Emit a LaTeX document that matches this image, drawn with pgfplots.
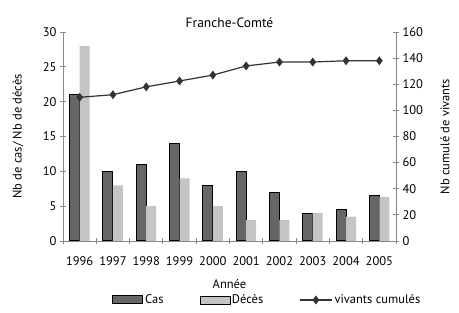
\documentclass[border=0pt]{standalone}
\usepackage{fontspec}
\setmainfont{PT Sans}
\usepackage{pgfplots}
\pgfplotsset{compat=1.18}
\definecolor{casc}{HTML}{666666}
\definecolor{decc}{HTML}{C4C4C4}
\definecolor{axc}{HTML}{888888}
\definecolor{linec}{HTML}{333333}
\pgfplotsset{
  common/.style={
    scale only axis, width=333pt, height=209pt,
    at={(0,0)}, anchor=south west,
    xmin=-0.5, xmax=9.5,
    /pgf/number format/assume math mode=true,
    tick label style={font=\fontsize{12.5}{14}\selectfont},
    label style={font=\fontsize{12.5}{14}\selectfont},
    axis line style={axc, line width=0.8pt},
    tick style={axc, line width=0.8pt},
    tick align=center,
    major tick length=6pt,
    minor tick length=6pt,
  },
  barlegend/.style={legend image code/.code={\draw[##1] (0pt,-4pt) rectangle (30pt,4pt);}},
  linelegend/.style={legend image code/.code={\draw[##1, mark repeat=2, mark phase=2] plot coordinates {(0pt,0pt)(16pt,0pt)(32pt,0pt)};}},
}
\begin{document}
\begin{tikzpicture}[font=\fontsize{12.5}{14}\selectfont]
\useasboundingbox (-63pt,-72pt) rectangle (396pt,241pt);
\begin{axis}[common,
  ymin=0, ymax=30, ytick={0,5,...,30},
  axis y line*=left, axis x line*=bottom,
  xtick={0,...,9},
  xticklabels={1996,1997,1998,1999,2000,2001,2002,2003,2004,2005},
  major x tick style={draw=none},
  minor xtick={-0.5,0.5,...,9.5},
  x tick label style={yshift=-9pt},
  title={Franche-Comté},
  title style={at={(axis description cs:0.5,1)}, anchor=center, yshift=3pt, font=\fontsize{13.5}{15}\selectfont},
  xlabel={Année},
  xlabel style={at={(axis description cs:0.5,0)}, anchor=center, yshift=-43pt},
  ylabel={Nb de cas/ Nb de décès},
  ylabel style={at={(axis description cs:-0.135,0.5)}, anchor=center},
  legend style={at={(axis description cs:0,0)}, anchor=west, xshift=46pt, yshift=-59pt, draw=none, fill=none,
    legend columns=3, /tikz/every even column/.append style={column sep=34pt},
    font=\fontsize{12.5}{14}\selectfont},
  legend cell align=left,
]
\addplot[ybar, bar width=0.3, bar shift=-0.15, fill=casc, draw=black, line width=1pt, barlegend]
  coordinates {(0,21)(1,10)(2,11)(3,14)(4,8)(5,10)(6,7)(7,4)(8,4.5)(9,6.5)};
\addlegendentry{Cas}
\addplot[ybar, bar width=0.3, bar shift=0.15, fill=decc, draw=none, barlegend]
  coordinates {(0,28)(1,8)(2,5)(3,9)(4,5)(5,3)(6,3)(7,4)(8,3.5)(9,6.3)};
\addlegendentry{Décès}
\addlegendimage{linec, line width=1.2pt, mark=diamond*, mark size=3.5pt, mark options={fill=linec}, linelegend}
\addlegendentry{vivants cumulés}
\end{axis}
\begin{axis}[common,
  ymin=0, ymax=160, ytick={0,20,...,160},
  axis y line*=right, axis x line=none,
  ylabel={Nb cumulé de vivants},
  ylabel style={at={(axis description cs:1.147,0.5)}, anchor=center},
]
\addplot[linec, line width=1.2pt, mark=diamond*, mark size=3.5pt, mark options={fill=linec}]
  coordinates {(0,110)(1,112)(2,118)(3,122.5)(4,127)(5,134)(6,137)(7,137)(8,138)(9,138)};
\end{axis}
\end{tikzpicture}
\end{document}
